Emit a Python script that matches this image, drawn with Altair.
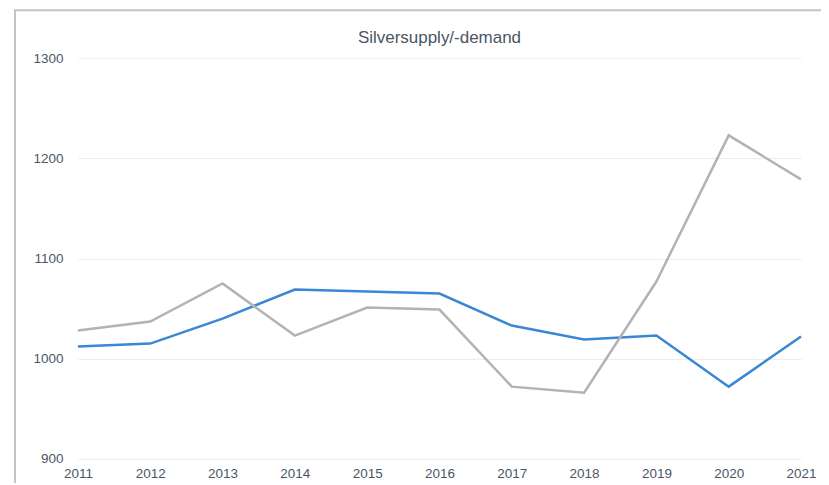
import altair as alt
import pandas as pd

years = [2011, 2012, 2013, 2014, 2015, 2016, 2017, 2018, 2019, 2020, 2021]
blue_values = [1012, 1015, 1040, 1069, 1067, 1065, 1033, 1019, 1023, 972, 1022]
gray_values = [1028, 1037, 1075, 1023, 1051, 1049, 972, 966, 1077, 1223, 1179]
series_names = ["Demand", "Supply"]
series_colors = ["#3a87d3", "#b3b3b3"]
y_ticks = [900, 1000, 1100, 1200, 1300]
title_text = "Silversupply/-demand"

rows = []
for i, yr in enumerate(years):
    rows.append({"year": yr, "series": series_names[0], "value": blue_values[i]})
    rows.append({"year": yr, "series": series_names[1], "value": gray_values[i]})
df = pd.DataFrame(rows)

TEXT = "#4a5666"
FONT = "Liberation Sans"

one = pd.DataFrame({"a": [0]})

border = alt.Chart(one).mark_rect(
    fill="transparent", stroke="#c4c4c4", strokeWidth=2
).encode(
    x=alt.value(-63), x2=alt.value(800),
    y=alt.value(-48), y2=alt.value(500),
)

title = alt.Chart(one).mark_text(
    fontSize=17, font=FONT, color=TEXT, align="center", baseline="middle"
).encode(
    x=alt.value(362), y=alt.value(-20), text=alt.value(title_text)
)

lines = alt.Chart(df).mark_line(strokeWidth=2.5).encode(
    x=alt.X("year:Q",
            scale=alt.Scale(domain=[2011, 2021], nice=False, zero=False),
            axis=alt.Axis(values=years, format="d", title=None, grid=False,
                          domain=False, ticks=False, labelPadding=8,
                          labelFontSize=13.5, labelColor=TEXT, labelFont=FONT,
                          labelFlush=False)),
    y=alt.Y("value:Q",
            scale=alt.Scale(domain=[900, 1300], nice=False, zero=False),
            axis=alt.Axis(values=y_ticks, format="d", title=None, domain=False,
                          ticks=False, labelPadding=15, labelFontSize=13.5,
                          labelColor=TEXT, labelFont=FONT,
                          gridColor="#ececec", gridWidth=1)),
    color=alt.Color("series:N",
                    scale=alt.Scale(domain=series_names, range=series_colors),
                    legend=None),
    detail="series:N",
)

chart = alt.layer(border, title, lines).properties(
    width=724, height=401,
    autosize=alt.AutoSizeParams(type="none"),
    padding={"left": 70, "top": 50, "right": 20, "bottom": 24},
).configure_view(stroke=None)

chart.save("out.html", embed_options={"renderer": "svg", "actions": False})
